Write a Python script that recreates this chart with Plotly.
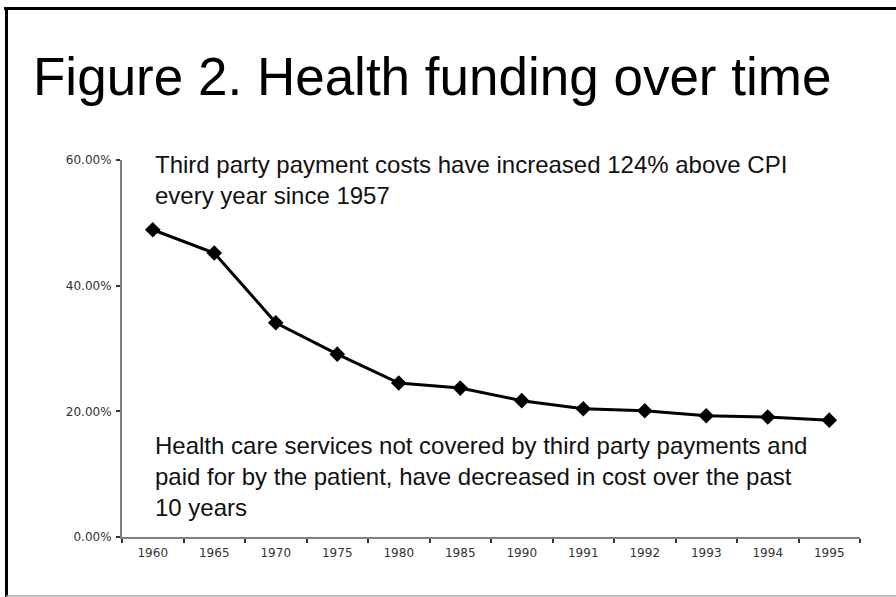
import plotly.graph_objects as go

years = ["1960", "1965", "1970", "1975", "1980", "1985", "1990", "1991", "1992", "1993", "1994", "1995"]
share = [48.9, 45.2, 34.1, 29.1, 24.5, 23.7, 21.7, 20.4, 20.1, 19.3, 19.1, 18.6]
y_ticks = [0, 20, 40, 60]
y_tick_labels = ["0.00%", "20.00%", "40.00%", "60.00%"]

title_text = "Figure 2. Health funding over time"
note_top = "Third party payment costs have increased 124% above CPI<br>every year since 1957"
note_bottom = ("Health care services not covered by third party payments and<br>"
               "paid for by the patient, have decreased in cost over the past<br>10 years")

W, H = 896, 597
L, R, T, B = 122, 36, 160, 60
pw, ph = W - L - R, H - T - B

def px(x):
    return (x - L) / pw

def py(y):
    return (H - B - y) / ph

fig = go.Figure()
fig.add_trace(go.Scatter(
    x=years, y=share, mode="lines+markers",
    line=dict(color="#000000", width=3),
    marker=dict(symbol="diamond", size=12, color="#000000"),
    showlegend=False, hoverinfo="skip",
))

annotations = [
    dict(text=title_text, xref="paper", yref="paper",
         x=px(432), y=py(108), xanchor="center", yanchor="bottom",
         showarrow=False, font=dict(family="Liberation Sans, Arial, sans-serif", size=53, color="#000000")),
    dict(text=note_top, xref="paper", yref="paper",
         x=px(153), y=py(211), xanchor="left", yanchor="bottom", align="left",
         showarrow=False, font=dict(size=24, color="#111111")),
    dict(text=note_bottom, xref="paper", yref="paper",
         x=px(153), y=py(523), xanchor="left", yanchor="bottom", align="left",
         showarrow=False, font=dict(size=24, color="#111111")),
]

fig.update_layout(
    width=W, height=H,
    margin=dict(l=L, r=R, t=T, b=B, pad=0),
    paper_bgcolor="white", plot_bgcolor="white",
    font=dict(family="Liberation Sans, Arial, sans-serif", color="#000000"),
    xaxis=dict(
        type="category", range=[-0.5, 11.5],
        showline=True, linecolor="#808080", linewidth=2,
        ticks="outside", tickson="boundaries", ticklen=4, tickwidth=1.5, tickcolor="#333333",
        showgrid=False, zeroline=False, ticklabelstandoff=4,
        tickfont=dict(family="DejaVu Sans, sans-serif", size=12, color="#333333"),
    ),
    yaxis=dict(
        range=[0, 60], tickvals=y_ticks, ticktext=y_tick_labels,
        showline=True, linecolor="#808080", linewidth=2,
        ticks="outside", ticklen=4, tickwidth=1.5, tickcolor="#333333",
        showgrid=False, zeroline=False, ticklabelstandoff=2,
        tickfont=dict(family="DejaVu Sans, sans-serif", size=12, color="#333333"),
    ),
    annotations=annotations,
    shapes=[
        dict(type="line", xref="paper", yref="paper", x0=px(4), x1=px(W), y0=py(8.5), y1=py(8.5),
             line=dict(color="#000000", width=3)),
        dict(type="line", xref="paper", yref="paper", x0=px(6.5), x1=px(6.5), y0=py(7), y1=py(H),
             line=dict(color="#000000", width=3)),
        dict(type="line", xref="paper", yref="paper", x0=px(6), x1=px(W), y0=py(596), y1=py(596),
             line=dict(color="#aaaaaa", width=1.5)),
    ],
)

fig.write_html("out.html", config={"displayModeBar": False},
               post_script="document.body.style.margin='0';document.body.style.overflow='hidden';")
